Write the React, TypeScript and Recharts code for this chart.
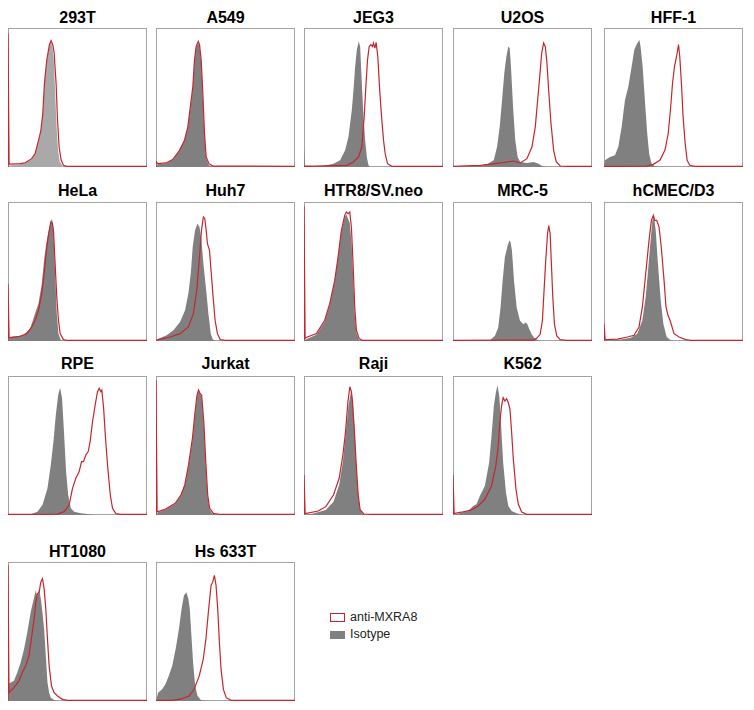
import { Area, ComposedChart, Line, XAxis, YAxis } from "recharts"

type Pt = [number, number]

// x: 0-100 across the panel, y: 0-100 of panel height
const cellLines = [
  "293T", "A549", "JEG3", "U2OS", "HFF-1",
  "HeLa", "Huh7", "HTR8/SV.neo", "MRC-5", "hCMEC/D3",
  "RPE", "Jurkat", "Raji", "K562",
  "HT1080", "Hs 633T",
]

const iso293T: Pt[] = [[0,0],[1,1],[8.7,2],[12.3,2.6],[17,5.5],[19.5,9],[21.9,18],[23.6,25],[25,37],[26.2,58],[27.9,76],[29.8,88],[31,90],[32,86],[33,76],[34,52],[35,28],[36,12],[37.2,4],[39,1],[41,0],[100,0]]
const mx293T: Pt[] = [[0,0],[0,96],[0.8,2],[1.4,2],[8.7,2.4],[12.3,3],[17,6],[19.5,9.6],[21.9,19],[23.6,26],[25,38],[26.2,60],[27.9,77],[29.8,88],[31,91],[32.2,88],[33.2,82],[34.6,60],[35.6,34],[36.8,14],[38.2,5],[39.9,1.2],[42.3,0.5],[100,0.5]]

const isoA549: Pt[] = [[0,0],[1.2,2],[7.2,2.5],[12,5],[16.9,11.5],[20.5,19],[22.9,28],[25.3,47],[26.5,57],[27.7,76],[28.9,86],[30.4,89],[31.3,87],[32.5,75],[33.7,50],[34.9,22],[36.1,6],[38,1.5],[40,0.3],[100,0]]
const mxA549: Pt[] = [[0,0],[0,4],[1.2,2.4],[7.2,2.9],[12,5.3],[16.9,12],[20.5,19.3],[22.9,28.9],[25.3,48.2],[26.5,57.8],[27.7,77.1],[28.9,86.7],[30.4,90.4],[31.3,88],[32.5,77.1],[33.7,53],[34.9,24],[36.1,7.2],[38.1,2.4],[41,0.7],[100,0.5]]

const isoJEG3: Pt[] = [[0,0],[0,14],[0.8,1],[10,0.5],[16.3,1.2],[21.2,2.4],[26,4.8],[29.6,12],[32,21.7],[34.4,41],[35.6,55.4],[36.8,72.3],[38,84.3],[39.4,90.4],[40.4,86.7],[41.6,60.2],[42.8,36.1],[44,19.3],[45.2,7.2],[46.4,1.2],[47.6,0],[100,0]]
const mxJEG3: Pt[] = [[0,0.5],[30.8,1.2],[35.6,3.6],[39.2,7.2],[41.6,14.5],[43.3,36.1],[44.5,57.8],[45.7,77.1],[46.9,86.7],[48.1,88],[49.3,86.7],[50,89.2],[51,85.5],[51.9,89.6],[53.1,79.5],[54.3,57.8],[55.8,36.1],[57.2,19.3],[58.4,9.6],[60.1,2.4],[63.2,0.5],[100,0.5]]

const isoU2OS: Pt[] = [[0,0],[19.7,0.7],[24.5,1.9],[29.3,4.8],[31.7,14.5],[33.6,28.9],[35.3,48.2],[36.9,67.5],[38.4,79.5],[39.8,86.7],[40.8,85.5],[41.7,72.3],[43.2,43.4],[44.8,19.3],[46.5,7.2],[48.4,3.6],[53.2,2.9],[58,3.6],[61.6,2.4],[64,0.7],[67.6,0],[100,0]]
const mxU2OS: Pt[] = [[0,0.5],[19.7,1.2],[34,2.9],[43.6,4.3],[48.4,2.9],[53.2,6],[56.8,14.5],[59.2,28.9],[60.9,48.2],[62.4,65],[63.8,82],[65.2,89.2],[66.4,86.7],[67.6,74.7],[68.8,55.4],[70.5,31.3],[72.4,12],[74.3,3.6],[77.2,0.7],[82,0.5],[100,0.5]]

const isoHFF1: Pt[] = [[0,0],[0.7,4.8],[4.3,7.2],[7.9,8.4],[10.3,14.5],[12.7,28.9],[15.1,48.2],[17.5,57.8],[19.9,72.3],[21.8,84.3],[23.4,88],[25.4,91.6],[26.3,86.7],[27.8,72.3],[29.4,48.2],[31.1,24.1],[32.5,9.6],[34.2,2.4],[36.6,0.5],[40,0],[100,0]]
const mxHFF1: Pt[] = [[0,0.5],[30.6,0.7],[35.4,1.9],[40.2,4.8],[43.8,12],[46.2,24.1],[47.8,41],[49.3,60.2],[50.7,72.3],[52.2,79.5],[53.6,88],[54.5,79.5],[55.7,60.2],[56.9,36.1],[58.4,16.9],[59.8,4.8],[61.7,1.2],[65.3,0.5],[100,0.5]]

const isoHeLa: Pt[] = [[0,0],[1.4,2.9],[11.1,4.1],[15.9,8.9],[19.5,19.7],[21.9,26.9],[24.3,41.2],[26.2,60.4],[27.9,72.4],[29.8,82],[31.5,88],[32.2,85.6],[33.2,67.6],[34.1,43.6],[35.1,19.7],[36.3,5.3],[38,0.5],[40,0],[100,0]]
const mxHeLa: Pt[] = [[0,0],[0,41],[0.8,2.4],[1.4,2.4],[8.7,3.4],[13.5,5.3],[17.1,10.1],[19.5,14.9],[21.9,22.1],[24.3,34.1],[26.2,50.8],[27.9,67.6],[29.3,77.2],[30.8,85.6],[32,84.4],[32.7,79.6],[33.9,55.6],[35.1,31.7],[36.3,14.9],[37.5,5.3],[39.9,1],[42.3,0.5],[100,0.5]]

const isoHuh7: Pt[] = [[0,0],[1.7,1.7],[7.7,4.1],[12.5,7.7],[17.3,13.7],[20.9,22.1],[23.3,34.1],[25,48.4],[26.4,67.6],[28.1,79.6],[29.8,84.4],[31.3,82],[32.7,72.4],[34.1,55.6],[36.1,36.5],[37.7,19.7],[39.4,5.3],[40.9,1],[43,0],[100,0]]
const mxHuh7: Pt[] = [[0,0.5],[1.7,1],[10.1,2.9],[17.3,5.3],[23.3,10.1],[26.9,19.7],[29.3,36.5],[31.3,60.4],[32.7,79.6],[34.1,89.2],[35.1,88],[36.1,79.6],[37,70],[38.5,65.2],[39.4,53.2],[40.9,34.1],[42.5,14.9],[44.2,5.3],[46.2,1],[49.8,0.5],[100,0.5]]

const isoHTR8: Pt[] = [[0,0],[1,1],[8.9,4.5],[14.9,14],[18.5,26],[22.1,43],[24.5,60],[26.9,79],[29.3,89],[30.5,91],[31.7,88],[32.9,85],[34.1,72],[35.3,48],[36.5,20],[37.7,6],[39.5,1],[41,0],[100,0]]
const mxHTR8: Pt[] = [[0,0],[0,97],[0.8,2],[1.5,2.5],[8.9,5.3],[14.9,14.9],[18.5,26.9],[22.1,43.6],[24.5,60.4],[26.9,79.6],[29.3,90.4],[30.5,92.8],[31.7,91.6],[32.9,92.8],[34.1,82],[35.3,55.6],[36.5,24.5],[37.7,7.7],[39.7,1.7],[42,0.5],[100,0.5]]

const isoMRC5: Pt[] = [[0,0],[26.5,0.5],[30.1,3.6],[32.5,9.6],[34.2,24.1],[35.7,43.4],[37.3,60.2],[39,67.5],[40.5,72.3],[41.4,71.1],[42.4,65.1],[43.9,43.4],[45.8,24.1],[48.2,14.5],[50.6,12],[52.3,13.3],[53.5,12],[54.9,8.4],[56.6,4.8],[58.3,2.4],[60.2,1],[62.7,0],[100,0]]
const mxMRC5: Pt[] = [[0,0.5],[57.8,0.7],[60.2,1.9],[62.7,4.8],[64.3,14.5],[65.5,36.1],[66.7,57.8],[68,77.1],[68.9,83.1],[69.9,77.1],[70.8,55.4],[71.8,31.3],[73,12],[74.7,3.6],[77.1,1],[81.9,0.5],[100,0.5]]

const isoHCMEC: Pt[] = [[0,0],[12,1],[19.2,2.4],[24,5.3],[27.6,14.9],[30,31.7],[31.7,50.8],[33.1,67.6],[34.8,86.8],[36,89.2],[37.2,79.6],[38.8,55.6],[40.8,29.3],[42.7,12.5],[45.1,2.9],[48,0.5],[50,0],[100,0]]
const mxHCMEC: Pt[] = [[0,0],[0,12.5],[0.8,1],[2.4,1],[9.6,1.4],[16.8,2.9],[21.6,4.1],[25.2,10.1],[27.6,24.5],[30,48.4],[32.4,72.4],[34.1,86.8],[35.5,90.4],[36.5,86.8],[37.9,86.8],[39.6,82],[41.2,67.6],[43.2,43.6],[44.6,24.5],[46,18.5],[47.5,14.9],[50.4,5.3],[54,2.9],[58.8,1],[62.4,0.5],[100,0.5]]

const isoRPE: Pt[] = [[0,0],[8,0.5],[16.3,0.5],[21.2,2.4],[24.8,7.2],[28.4,19.2],[30.8,36],[32.7,52.8],[34.4,71.9],[36.1,86.3],[37.5,91.6],[38.9,83.9],[40.4,57.6],[41.8,31.2],[43.3,14.4],[45.2,4.8],[47.6,2.4],[52.4,1.2],[57.2,0.7],[61.8,0],[100,0]]
const mxRPE: Pt[] = [[0,0.5],[35.6,0.7],[40.4,2.4],[44,7.2],[46.4,19.2],[48.8,26.4],[51.2,31.2],[52.9,38.4],[54.3,38.4],[56,43.2],[57.7,45.6],[59.1,52.8],[60.8,67.1],[62.7,79.1],[64.4,88.7],[65.6,91.1],[66.8,88.7],[67.5,89.9],[68.8,76.7],[70,57.6],[71.6,36],[73.6,14.4],[75.2,4.8],[77.6,1],[81.3,0.5],[100,0.5]]

const isoJurkat: Pt[] = [[0,0],[1.4,2],[6.9,4],[13.8,8],[17.9,14],[20.7,21],[23.4,35],[26.2,54],[28.1,73],[29.5,85],[30.6,89],[31.7,87],[32.8,85],[34.4,65],[35.8,36],[37.2,13],[38.6,4],[40.5,1],[43,0],[100,0]]
const mxJurkat: Pt[] = [[0,0],[0,97],[0.8,2.4],[1.4,2.4],[6.9,4.3],[13.8,8.4],[17.9,14.4],[20.7,21.6],[23.4,36],[26.2,55.2],[28.1,74.3],[29.5,86.3],[30.6,89.9],[31.7,87.5],[32.8,86.3],[34.4,67.1],[35.8,38.4],[37.2,14.4],[38.6,4.8],[41.3,1.2],[45.5,0.5],[100,0.5]]

const isoRaji: Pt[] = [[0,0],[4.7,0.5],[15.7,3.6],[21.2,9.6],[25.3,21.6],[28,38.4],[30.2,60],[32.1,79.1],[33.8,88.7],[34.9,83.9],[36.3,62.4],[37.6,36],[39,14.4],[40.4,3.6],[42.6,0.5],[45,0],[100,0]]
const mxRaji: Pt[] = [[0,0],[0,28.8],[0.8,1.2],[1.9,1.2],[10.2,2.9],[15.7,6],[21.2,14.4],[25.3,26.4],[28,43.2],[29.9,60],[31.6,81.5],[33,92.3],[34.1,88.7],[34.9,81.5],[36.3,60],[37.6,36],[39,14.4],[40.4,3.6],[43.1,0.7],[48.6,0.5],[100,0.5]]

const isoK562: Pt[] = [[0,0],[4.8,1.2],[10.8,2.9],[14.5,6.5],[16.9,7.7],[19.3,13.7],[22.9,20.9],[26,37.6],[27.7,56.8],[29.4,78.4],[30.8,88],[32,93.3],[33.3,85.6],[34.5,66.4],[36.1,37.6],[38.1,16.1],[39.8,6.5],[42.2,2.9],[45.8,1.2],[50.6,0],[100,0]]
const mxK562: Pt[] = [[0,0],[0,29],[0.8,1.2],[1.2,1.2],[7.2,2.2],[13.3,3.6],[18.1,6.5],[22.9,11.3],[27.7,20.9],[30.8,35.3],[32.5,49.6],[33.7,66.4],[34.9,78.4],[36.1,84.4],[37.3,82],[38.6,83.7],[39.8,80.8],[41,76],[42.2,59.2],[43.4,40],[45.3,18.5],[47,7.7],[49.4,2.2],[53,0.5],[57.8,0.5],[100,0.5]]

const isoHT1080: Pt[] = [[0,0],[0,12],[1.9,13.3],[4.3,14.5],[6.7,20.5],[9.1,27.7],[11.5,37.3],[13.9,49.4],[16.3,63.9],[18.8,74.7],[20,79.5],[21.2,74.7],[22.4,80.7],[23.6,73.5],[24.8,63.9],[26,51.8],[27.2,32.5],[28.4,13.3],[29.6,6],[30.8,2.4],[33.2,0.7],[36,0],[100,0]]
const mxHT1080: Pt[] = [[0,0],[0,97.6],[0.7,6],[4.3,9.6],[7.9,14.5],[10.3,20.5],[12.7,25.3],[15.1,32.5],[16.8,44.6],[18.8,59],[20,71.1],[21.2,77.1],[22.4,78.3],[23.6,85.5],[24.8,88],[26,80.7],[27.2,66.3],[28.4,44.6],[29.6,25.3],[31.3,10.8],[33.2,6],[35.6,3.6],[39.2,1.2],[42.8,0.5],[47.6,0.5],[100,0.5]]

const isoHs633T: Pt[] = [[0,0],[1.5,6],[4.4,8.4],[6.8,12],[9.2,18.1],[11.7,25.3],[14.1,37.3],[16.5,51.8],[18.4,66.3],[20.1,75.9],[21.8,78.3],[23.3,73.5],[24.3,66.3],[25.5,47],[26.7,27.7],[28.2,10.8],[29.9,3.6],[32.3,0.7],[35.9,0],[100,0]]
const mxHs633T: Pt[] = [[0,0.5],[11.7,0.5],[18.9,1.7],[23.8,3.6],[27.4,8.4],[31.1,18.1],[34,30.1],[35.9,44.6],[37.9,66.3],[39.6,83.1],[40.8,85.5],[42,90.4],[43.2,83.1],[44.4,66.3],[45.6,42.2],[46.8,22.9],[48.5,8.4],[50.5,2.4],[54.1,0.5],[58.7,0.5],[100,0.5]]

const isoSeries = [iso293T, isoA549, isoJEG3, isoU2OS, isoHFF1, isoHeLa, isoHuh7, isoHTR8, isoMRC5, isoHCMEC, isoRPE, isoJurkat, isoRaji, isoK562, isoHT1080, isoHs633T]
const mxSeries = [mx293T, mxA549, mxJEG3, mxU2OS, mxHFF1, mxHeLa, mxHuh7, mxHTR8, mxMRC5, mxHCMEC, mxRPE, mxJurkat, mxRaji, mxK562, mxHT1080, mxHs633T]

const RED = "#c4262f"
const GREY = "#808080"
const SIZE = 139

const colLeft = [8, 156, 304, 453, 604]
const rowTop = [28, 202, 376, 562]
const rowTitleY = [17.5, 191, 364, 552]
const rowStart = [0, 5, 10, 14]

const toRows = (pts: Pt[]) => pts.map(([x, y]) => ({ x, y }))

function Panel({ idx, left, top, titleY }: { idx: number; left: number; top: number; titleY: number }) {
  const fill = idx === 0 ? "#a9a9a9" : GREY
  return (
    <>
      <div
        style={{
          position: "absolute",
          left: left - 10,
          top: titleY - 7.8,
          width: SIZE + 20,
          textAlign: "center",
          fontFamily: "'Liberation Sans', Arial, sans-serif",
          fontWeight: "bold",
          fontSize: 16,
          lineHeight: "16px",
          color: "#000",
        }}
      >
        {cellLines[idx]}
      </div>
      <div style={{ position: "absolute", left, top, width: SIZE, height: SIZE }}>
        <div
          style={{
            position: "absolute",
            inset: 0,
            border: "1px solid #a3a3a3",
            boxSizing: "border-box",
          }}
        />
        <div style={{ position: "absolute", left: 0, top: 0 }}>
          <ComposedChart width={SIZE} height={SIZE} margin={{ top: 0, right: 0, bottom: 0, left: 0 }}>
            <XAxis type="number" dataKey="x" domain={[0, 100]} hide allowDataOverflow />
            <YAxis type="number" domain={[0, 100]} hide allowDataOverflow />
            <Area
              data={toRows(isoSeries[idx])}
              dataKey="y"
              type="linear"
              stroke="none"
              fill={fill}
              fillOpacity={1}
              isAnimationActive={false}
            />
            <Line
              data={toRows(mxSeries[idx])}
              dataKey="y"
              type="linear"
              stroke={RED}
              strokeWidth={1.2}
              dot={false}
              isAnimationActive={false}
            />
          </ComposedChart>
        </div>
      </div>
    </>
  )
}

export default function App() {
  const panels = cellLines.map((_, idx) => {
    let row = 0
    for (let r = 0; r < rowStart.length; r++) if (idx >= rowStart[r]) row = r
    const col = idx - rowStart[row]
    return (
      <Panel key={idx} idx={idx} left={colLeft[col]} top={rowTop[row]} titleY={rowTitleY[row]} />
    )
  })

  const legendText = {
    position: "absolute" as const,
    left: 350,
    fontFamily: "'Liberation Sans', Arial, sans-serif",
    fontSize: 12.5,
    lineHeight: "13px",
    color: "#222",
  }

  return (
    <div style={{ position: "absolute", left: 0, top: 0, width: 754, height: 710, background: "#fff" }}>
      {panels}
      <div
        style={{
          position: "absolute",
          left: 330,
          top: 613,
          width: 15,
          height: 9,
          border: `1.5px solid ${RED}`,
          boxSizing: "border-box",
        }}
      />
      <div style={{ ...legendText, top: 611 }}>anti-MXRA8</div>
      <div style={{ position: "absolute", left: 330, top: 631, width: 15, height: 8, background: GREY }} />
      <div style={{ ...legendText, top: 628 }}>Isotype</div>
    </div>
  )
}
